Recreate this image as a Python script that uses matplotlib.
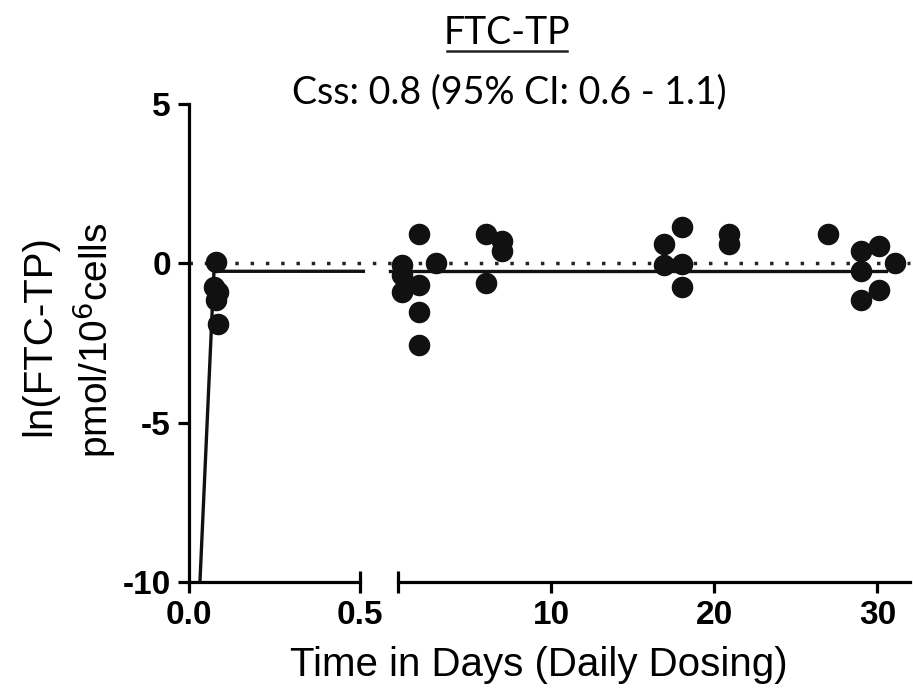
import matplotlib
matplotlib.use("Agg")
import matplotlib.pyplot as plt
from matplotlib.transforms import blended_transform_factory

# Pontos medidos - primeira dose (horas, em dias)
t_dose1 = [0.080, 0.072, 0.085, 0.078, 0.085]
y_dose1 = [0.04, -0.75, -0.9, -1.16, -1.9]

# Pontos medidos - dosagem diaria
t_diario = [0.86, 0.86, 0.86, 1.9, 1.9, 1.9, 1.9, 2.9, 6.0, 6.0, 7.0, 7.0,
            16.9, 16.9, 18.0, 18.0, 18.0, 20.9, 20.9, 27.0,
            29.0, 29.0, 29.0, 30.1, 30.1, 31.1]
y_diario = [-0.05, -0.36, -0.9, 0.92, -0.68, -1.54, -2.55, 0.01, 0.92, -0.63, 0.7, 0.38,
            0.6, -0.05, 1.13, -0.03, -0.74, 0.92, 0.6, 0.92,
            0.38, -0.25, -1.16, 0.54, -0.85, 0.01]

# Curva do modelo
t_modelo_1 = [0.032, 0.073, 0.51]
y_modelo_1 = [-10.0, -0.25, -0.25]
t_modelo_2 = [0.1, 30.5]
y_modelo_2 = [-0.25, -0.25]

ticks_esq = [0.0, 0.5]
ticks_dir = [10, 20, 30]
yticks = [5, 0, -5, -10]

fig = plt.figure(figsize=(9.13, 6.91), dpi=100)
plt.rcParams["font.family"] = ["Liberation Sans", "DejaVu Sans"]

W, H = 913.0, 691.0
bottom = (H - 582) / H
height = (582 - 104) / H
ax1 = fig.add_axes([189 / W, bottom, (360 - 189) / W, height])
ax2 = fig.add_axes([398 / W, bottom, (910 - 398) / W, height])

lw_eixo = 2.3
for ax in (ax1, ax2):
    ax.set_facecolor("none")
    ax.xaxis.remove_overlapping_locs = False
    ax.spines["top"].set_visible(False)
    ax.spines["right"].set_visible(False)
    ax.spines["bottom"].set_linewidth(lw_eixo)
    ax.spines["left"].set_linewidth(lw_eixo)
    ax.set_ylim(-10, 5)
    ax.tick_params(axis="both", which="major", direction="out", length=8,
                   width=lw_eixo, labelsize=24, pad=5)

ax1.set_xlim(0.0, 0.5)
ax1.set_xticks(ticks_esq)
ax1.set_xticklabels(["0.0", "0.5"], fontweight="bold")
ax1.set_yticks(yticks)
ax1.set_yticklabels([str(v) for v in yticks], fontweight="bold")
ax1.set_xticks([0.5], minor=True)
ax1.tick_params(axis="x", which="minor", direction="in", length=8, width=lw_eixo)

ax2.set_xlim(0.6, 32.0)
ax2.set_xticks(ticks_dir)
ax2.set_xticklabels([str(v) for v in ticks_dir], fontweight="bold")
ax2.set_xticks([0.6], minor=True)
ax2.tick_params(axis="x", which="minor", direction="inout", length=16, width=lw_eixo)
ax2.spines["left"].set_visible(False)
ax2.set_yticks([])

# linha pontilhada em y=0 atravessando a quebra
trans = blended_transform_factory(fig.transFigure, ax1.transData)
ax1.plot([189 / W, 910 / W], [0, 0], transform=trans, color="#222222",
         linewidth=2.5, linestyle=(0, (1, 3.4)), clip_on=False, zorder=1)

ax1.plot(t_modelo_1, y_modelo_1, color="#111111", linewidth=2.4, clip_on=False, zorder=2)
ax2.plot(t_modelo_2, y_modelo_2, color="#111111", linewidth=2.4, clip_on=False, zorder=2)

ax1.plot(t_dose1, y_dose1, "o", color="#111111", markersize=14.5, clip_on=False, zorder=3)
ax2.plot(t_diario, y_diario, "o", color="#111111", markersize=14.5, clip_on=False, zorder=3)

fig.text(539 / W, 1 - 665 / H, "Time in Days (Daily Dosing)", ha="center", va="center",
         fontsize=29)
fig.text(39 / W, 1 - 336 / H, "ln(FTC-TP)", rotation=90, ha="center", va="center",
         fontsize=29)
fig.text(94 / W, 1 - 340 / H, "pmol/10$^6$cells", rotation=90, ha="center", va="center",
         fontsize=28)

fig.text(507 / W, 1 - 33 / H, "FTC-TP", ha="center", va="center", fontsize=27,
         family=["Lato", "DejaVu Sans"])
fig.add_artist(plt.Line2D([447 / W, 567 / W], [1 - 51 / H, 1 - 51 / H], color="#222222",
                          linewidth=1.8))
fig.text(509 / W, 1 - 92 / H, "Css: 0.8 (95% CI: 0.6 - 1.1)", ha="center", va="center",
         fontsize=27, family=["Lato", "DejaVu Sans"])

fig.savefig("out.png", dpi=100)
